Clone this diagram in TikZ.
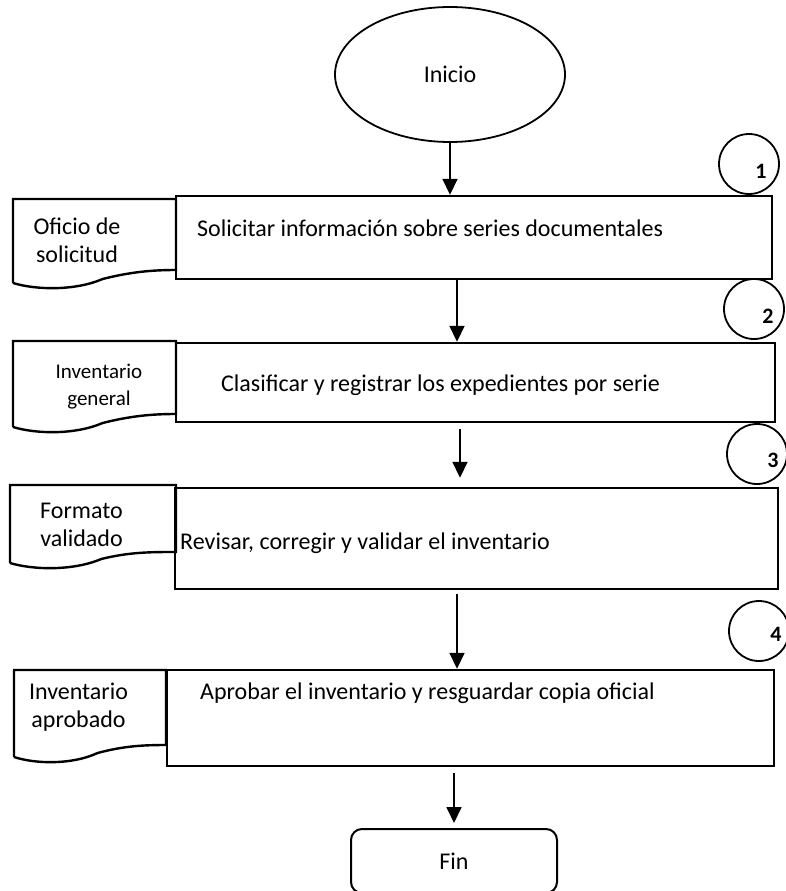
\documentclass[tikz,border=0pt]{standalone}
\usepackage{fontspec}
\setmainfont{Carlito}
\usetikzlibrary{arrows.meta,shapes.geometric}
\tikzset{
  proc/.style={draw, rectangle, line width=2.4pt, inner sep=0pt},
  docline/.style={draw, line width=2.4pt, line join=miter},
  arr/.style={line width=1.8pt, -{Triangle[length=16pt,width=15pt]}},
  numcirc/.style={draw, circle, line width=1.8pt, minimum size=60pt, inner sep=0pt},
  num/.style={font=\fontsize{22}{26}\selectfont\bfseries, inner sep=0pt},
  txt/.style={font=\fontsize{24}{28}\selectfont, inner sep=0pt},
  doctxt/.style={font=\fontsize{24}{28}\selectfont, inner sep=0pt, align=center},
  doctxtsmall/.style={font=\fontsize{21}{27}\selectfont, inner sep=0pt, align=center},
  term/.style={draw, line width=2pt, inner sep=0pt, font=\fontsize{24}{28}\selectfont}
}
% L R T BL BR
\newcommand\docshape[5]{%
  \draw[docline] (#1,#4) -- (#1,#3) -- (#2,#3) -- (#2,#5)
    .. controls ({#2-0.15*(#2-#1)},#5) and ({#1+0.72*(#2-#1)},{#4-11}) .. ({#1+0.55*(#2-#1)},{#4-4})
    .. controls ({#1+0.38*(#2-#1)},{#4+8}) and ({#1+0.14*(#2-#1)},{#4+7}) .. (#1,#4);
}
\begin{document}
\begin{tikzpicture}[x=1pt,y=-1pt]
\useasboundingbox (0,0) rectangle (785,891);
\fill[white] (0,0) rectangle (785,891);

% start
\node[draw, ellipse, line width=1.8pt, minimum width=230pt, minimum height=135pt, inner sep=0pt,
      font=\fontsize{24}{28}\selectfont] (ini) at (450,74.5) {Inicio};

% process boxes
\node[proc, minimum width=596pt, minimum height=83pt] (b1) at (474,237.5) {};
\node[proc, minimum width=599pt, minimum height=79pt] (b2) at (475.5,382.5) {};
\node[proc, minimum width=603pt, minimum height=101pt] (b3) at (476.5,538.5) {};
\node[proc, minimum width=607pt, minimum height=96pt] (b4) at (470.5,718) {};

\node[txt, anchor=mid west] (t1) at (197,234) {Solicitar información sobre series documentales};
\node[txt, anchor=mid west] (t2) at (221,389) {Clasificar y registrar los expedientes por serie};
\node[txt, anchor=mid west] (t3) at (180,547) {Revisar, corregir y validar el inventario};
\node[txt, anchor=mid west] (t4) at (200,697) {Aprobar el inventario y resguardar copia oficial};

% documents
\docshape{13}{176}{199}{283}{270}
\docshape{13}{176}{341}{427}{414}
\docshape{10}{176}{485}{563}{552}
\docshape{14}{166}{670}{757}{745}

\node[doctxt] (d1) at (77,240.5) {Oficio de\\solicitud};
\node[doctxtsmall] (d2) at (99,386.5) {Inventario\\general};
\node[doctxt] (d3) at (81.5,525) {Formato\\validado};
\node[doctxt] (d4) at (78.5,707.5) {Inventario\\aprobado};

% numbered circles
\node[numcirc] (c1) at (749,164) {};
\node[numcirc] (c2) at (754,309) {};
\node[numcirc] (c3) at (757,454) {};
\node[numcirc] (c4) at (759,631) {};
\node[num] (n1) at (761,171) {1};
\node[num] (n2) at (768,316) {2};
\node[num] (n3) at (773,460) {3};
\node[num] (n4) at (776,634) {4};

% end
\node[term, rounded corners=11pt, minimum width=206pt, minimum height=64pt] (fin) at (454,861) {Fin};

% arrows
\coordinate (ax2) at (457,0);
\coordinate (ax3) at (460,0);
\coordinate (ax4) at (457,0);
\coordinate (ax5) at (454,0);
\draw[arr] (ini.south) -- (ini.south |- b1.north);
\draw[arr] (b1.south -| ax2) -- (b2.north -| ax2);
\draw[arr, shorten <=6pt, shorten >=9pt] (b2.south -| ax3) -- (b3.north -| ax3);
\draw[arr, shorten <=4pt] (b3.south -| ax4) -- (b4.north -| ax4);
\draw[arr, shorten <=6pt, shorten >=5pt] (b4.south -| ax5) -- (fin.north -| ax5);
\end{tikzpicture}
\end{document}
